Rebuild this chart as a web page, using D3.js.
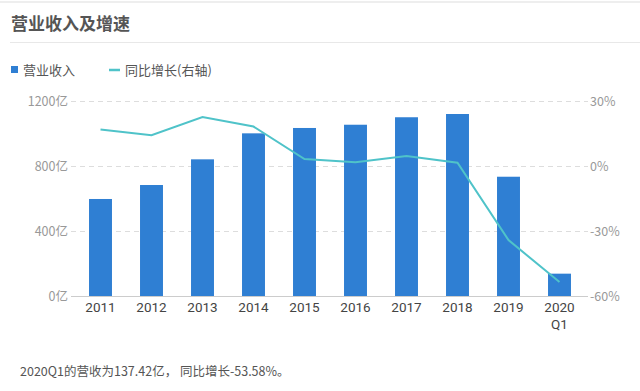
<!DOCTYPE html>
<html>
<head>
<meta charset="utf-8">
<script src="https://cdn.jsdelivr.net/npm/d3@7"></script>
<style>
  body { margin: 0; background: #fff; }
  text { font-family: "Noto Sans CJK SC", "Noto Sans", sans-serif; }
  text.xl { font-family: Roboto, "Noto Sans", sans-serif; }
</style>
</head>
<body>
<div id="chart"></div>
<script>
// categories and series
var years = ["2011", "2012", "2013", "2014", "2015", "2016", "2017", "2018", "2019", "2020Q1"];
var revenue = [597, 683, 841, 1001, 1034, 1054, 1100, 1120, 734, 137.42];
var growth = [16.9, 14.2, 22.6, 18.2, 3.2, 1.7, 4.6, 1.5, -34.2, -53.58];
var leftTicks = [0, 400, 800, 1200];
var rightTicks = [-60, -30, 0, 30];

var width = 640, height = 391;
var svg = d3.select("#chart").append("svg")
    .attr("width", width)
    .attr("height", height);

// header
svg.append("line").attr("x1", 0).attr("x2", width).attr("y1", 2).attr("y2", 2)
    .attr("stroke", "#eee").attr("stroke-width", 2);
svg.append("text").text("营业收入及增速")
    .attr("x", 11).attr("y", 30)
    .attr("font-size", 17).attr("font-weight", "bold").attr("fill", "#555");
svg.append("line").attr("x1", 10).attr("x2", width).attr("y1", 42.5).attr("y2", 42.5)
    .attr("stroke", "#e8e8e8");

// legend
svg.append("rect").attr("x", 11).attr("y", 66).attr("width", 7).attr("height", 7).attr("fill", "#2f7fd3");
svg.append("text").text("营业收入").attr("x", 23).attr("y", 75)
    .attr("font-size", 13).attr("fill", "#555");
svg.append("line").attr("x1", 109).attr("x2", 120).attr("y1", 70).attr("y2", 70)
    .attr("stroke", "#4fc3c9").attr("stroke-width", 2.5);
svg.append("text").text("同比增长(右轴)").attr("x", 125).attr("y", 75)
    .attr("font-size", 13).attr("fill", "#555");

var x = d3.scaleBand().domain(years).range([75, 585]).paddingInner(0.55).paddingOuter(0.275);
var yL = d3.scaleLinear().domain([0, 1200]).range([296, 101]);
var yR = d3.scaleLinear().domain([-60, 30]).range([296, 101]);

// gridlines
svg.selectAll(".grid").data(leftTicks.slice(1)).enter().append("line")
    .attr("x1", 71).attr("x2", 588)
    .attr("y1", function (d) { return Math.round(yL(d)) + 0.5; })
    .attr("y2", function (d) { return Math.round(yL(d)) + 0.5; })
    .attr("stroke", "#ddd").attr("stroke-dasharray", "5,4");

// bars
svg.selectAll(".bar").data(revenue).enter().append("rect")
    .attr("x", function (d, i) { return x(years[i]); })
    .attr("width", x.bandwidth())
    .attr("y", function (d) { return yL(d); })
    .attr("height", function (d) { return yL(0) - yL(d); })
    .attr("fill", "#2f7fd3");

// baseline
svg.append("line").attr("x1", 71).attr("x2", 588).attr("y1", 296.5).attr("y2", 296.5)
    .attr("stroke", "#ccc");

// line series
var line = d3.line()
    .x(function (d, i) { return x(years[i]) + x.bandwidth() / 2; })
    .y(function (d) { return yR(d); });
svg.append("path").datum(growth)
    .attr("d", line)
    .attr("fill", "none")
    .attr("stroke", "#4fc3c9")
    .attr("stroke-width", 2);

// left axis labels
svg.selectAll(".ly").data(leftTicks).enter().append("text")
    .text(function (d) { return d + "亿"; })
    .attr("x", 68).attr("y", function (d) { return yL(d) + 4.5; })
    .attr("text-anchor", "end").attr("font-size", 12.5).attr("fill", "#999");

// right axis labels
svg.selectAll(".ry").data(rightTicks).enter().append("text")
    .text(function (d) { return d + "%"; })
    .attr("x", 590).attr("y", function (d) { return yR(d) + 4.5; })
    .attr("font-size", 12.5).attr("fill", "#999");

// x labels (2020Q1 split onto two lines as separate texts)
years.forEach(function (d) {
    var cx = x(d) + x.bandwidth() / 2;
    var parts = d.indexOf("Q") > 0 ? [d.slice(0, 4), d.slice(4)] : [d];
    parts.forEach(function (p, k) {
        svg.append("text").attr("class", "xl").text(p)
            .attr("x", cx).attr("y", 312 + k * 16.5)
            .attr("text-anchor", "middle").attr("font-size", 13.5).attr("fill", "#444");
    });
});

// note
svg.append("text").text("2020Q1的营收为137.42亿， 同比增长-53.58%。")
    .attr("x", 20).attr("y", 376)
    .attr("font-size", 12.5).attr("fill", "#555");
</script>
</body>
</html>
